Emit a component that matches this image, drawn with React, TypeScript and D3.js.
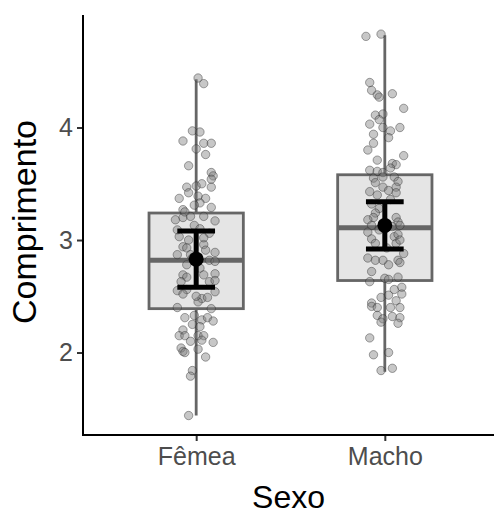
import React, { useEffect, useRef } from "react";
import * as d3 from "d3";

const categories = ["Fêmea", "Macho"];
const yTicks = [2, 3, 4];

// boxplot stats
const whiskerLow = [1.44, 1.83];
const q1 = [2.39, 2.64];
const median = [2.82, 3.11];
const q3 = [3.24, 3.58];
const whiskerHigh = [4.43, 4.82];
const means = [2.83, 3.13];
const ciLow = [2.58, 2.92];
const ciHigh = [3.08, 3.34];

// jittered observations (value, horizontal jitter in category units)
const femeaValues = [
  4.44, 4.39, 3.97, 3.96, 3.88, 3.86, 3.86, 3.81, 3.76, 3.66, 3.6, 3.57, 3.54, 3.47, 3.48,
  3.5, 3.47, 3.42, 3.37, 3.39, 3.37, 3.33, 3.29, 3.27, 3.31, 3.18, 3.2, 3.21, 3.21, 3.17,
  3.13, 3.25, 3.09, 3.1, 3.06, 3.03, 2.94, 2.93, 2.96, 2.91, 2.89, 2.87, 2.87, 2.82, 2.81,
  2.78, 2.75, 2.69, 2.67, 2.69, 2.7, 2.63, 2.63, 2.64, 2.55, 2.56, 2.54, 2.52, 2.48, 2.49,
  2.45, 2.4, 2.39, 2.5, 2.33, 2.31, 2.29, 2.31, 2.28, 2.25, 2.23, 2.2, 2.15, 2.15, 2.15,
  2.15, 2.11, 2.1, 2.09, 2.04, 2.01, 2.0, 2.03, 1.96, 1.84, 1.79, 1.44, 2.84, 3.0, 3.02,
];
const femeaJitter = [
  0.01, 0.04, -0.02, 0.02, -0.07, 0.04, 0.08, 0, 0.05, -0.04, 0.08, 0.09, 0.08, -0.05, 0,
  0.03, 0.08, -0.04, -0.09, 0.01, 0.05, 0.02, 0.08, -0.07, -0.01, -0.11, -0.07, -0.03, 0.04, 0.1,
  -0.01, -0.06, -0.1, 0.02, 0.07, -0.09, -0.07, -0.05, 0.04, 0.05, 0.1, -0.1, -0.03, 0.07, 0.1,
  -0.05, 0.02, -0.07, -0.05, 0.04, 0.1, -0.08, 0.07, 0.1, -0.1, -0.05, 0.1, -0.07, 0.03, 0.06,
  0.01, -0.1, 0.08, 0, -0.01, -0.06, 0.03, 0.06, 0.09, -0.02, 0.02, -0.07, -0.09, -0.06, 0.01,
  0.04, 0.03, -0.03, 0.09, -0.08, -0.07, -0.06, 0.01, 0.05, -0.02, -0.03, -0.04, -0.02, -0.04, 0.04,
];
const machoValues = [
  4.81, 4.83, 4.4, 4.33, 4.29, 4.27, 4.3, 4.17, 4.11, 4.12, 4.07, 4.03, 4.0, 3.97, 4.0,
  3.94, 3.91, 3.86, 3.8, 3.71, 3.75, 3.68, 3.67, 3.62, 3.61, 3.6, 3.64, 3.55, 3.56, 3.56,
  3.52, 3.51, 3.47, 3.44, 3.47, 3.43, 3.4, 3.42, 3.32, 3.36, 3.28, 3.24, 3.2, 3.18, 3.2,
  3.16, 3.13, 3.12, 3.13, 3.07, 3.01, 3.03, 3.05, 2.97, 2.97, 3.0, 2.88, 2.84, 2.82, 2.82,
  2.82, 2.8, 2.78, 2.72, 2.66, 2.65, 2.67, 2.63, 2.58, 2.56, 2.49, 2.51, 2.52, 2.44, 2.41,
  2.46, 2.4, 2.4, 2.4, 2.33, 2.3, 2.32, 2.31, 2.27, 2.26, 2.13, 1.98, 2.0, 1.84, 1.86,
  2.93, 3.09,
];
const machoJitter = [
  -0.1, -0.02, -0.08, -0.07, -0.04, -0.03, 0.04, 0.1, -0.05, -0.01, -0.03, -0.08, -0.01, 0.03, 0.08,
  -0.06, 0.02, -0.06, -0.09, -0.04, 0.1, 0.04, 0.06, -0.08, -0.04, -0.01, 0.03, -0.06, -0.01, 0.05,
  0.07, -0.05, -0.01, 0.02, 0.06, -0.08, -0.04, 0.06, -0.07, 0.03, -0.03, -0.05, -0.06, -0.09, 0.06,
  0.07, -0.07, 0.04, 0.08, -0.09, -0.07, 0.05, 0.07, -0.05, 0.06, 0.08, 0.1, -0.09, -0.05, -0.01,
  0.07, 0.08, 0.02, -0.07, 0, 0.02, 0.07, -0.08, 0.09, 0.05, -0.02, 0.02, 0.09, -0.07, -0.07,
  0.06, -0.04, 0.03, 0.08, -0.04, -0.01, 0.04, 0.08, -0.02, 0.07, -0.08, -0.06, 0.02, -0.02, 0.04,
  0.01, -0.03,
];

const W = 494;
const H = 516;
const font = "'Liberation Sans', Arial, sans-serif";

const App = () => {
  const ref = useRef<SVGSVGElement>(null);

  useEffect(() => {
    const svg = d3.select(ref.current);
    svg.selectAll("*").remove();

    const margin = { top: 15, right: -4, bottom: 81, left: 83 };
    const x = d3
      .scalePoint<string>()
      .domain(categories)
      .range([margin.left, W - margin.right])
      .padding(0.6);
    const y = d3
      .scaleLinear()
      .domain([1.267, 5.0])
      .range([H - margin.bottom, margin.top]);
    const unit = x.step();
    const boxW = unit * 0.5;
    const capW = unit * 0.2;

    const stats = categories.map((c, i) => ({
      c,
      lo: whiskerLow[i],
      q1: q1[i],
      med: median[i],
      q3: q3[i],
      hi: whiskerHigh[i],
      mean: means[i],
      ciLo: ciLow[i],
      ciHi: ciHigh[i],
    }));

    const points = [
      ...femeaValues.map((v, i) => ({ c: categories[0], v, j: femeaJitter[i] })),
      ...machoValues.map((v, i) => ({ c: categories[1], v, j: machoJitter[i] })),
    ];

    svg.append("rect").attr("width", W).attr("height", H).attr("fill", "#fff");

    // boxplots
    const box = svg.append("g").selectAll("g").data(stats).enter().append("g");
    box
      .append("line")
      .attr("x1", (d) => x(d.c)!)
      .attr("x2", (d) => x(d.c)!)
      .attr("y1", (d) => y(d.hi))
      .attr("y2", (d) => y(d.lo))
      .attr("stroke", "#666")
      .attr("stroke-width", 2.8);
    box
      .append("rect")
      .attr("x", (d) => x(d.c)! - boxW / 2)
      .attr("width", boxW)
      .attr("y", (d) => y(d.q3))
      .attr("height", (d) => y(d.q1) - y(d.q3))
      .attr("fill", "#e5e5e5")
      .attr("stroke", "#666")
      .attr("stroke-width", 2.8);
    box
      .append("line")
      .attr("x1", (d) => x(d.c)! - boxW / 2)
      .attr("x2", (d) => x(d.c)! + boxW / 2)
      .attr("y1", (d) => y(d.med))
      .attr("y2", (d) => y(d.med))
      .attr("stroke", "#666")
      .attr("stroke-width", 5);

    // jittered points
    svg
      .append("g")
      .selectAll("circle")
      .data(points)
      .enter()
      .append("circle")
      .attr("cx", (d) => x(d.c)! + d.j * unit)
      .attr("cy", (d) => y(d.v))
      .attr("r", 4.2)
      .attr("fill", "#7a7a7a")
      .attr("fill-opacity", 0.42)
      .attr("stroke", "#222")
      .attr("stroke-opacity", 0.4)
      .attr("stroke-width", 1);

    // error bars and means
    const eb = svg.append("g").selectAll("g").data(stats).enter().append("g");
    eb.append("line")
      .attr("x1", (d) => x(d.c)!)
      .attr("x2", (d) => x(d.c)!)
      .attr("y1", (d) => y(d.ciHi))
      .attr("y2", (d) => y(d.ciLo))
      .attr("stroke", "#000")
      .attr("stroke-width", 5);
    [(d: any) => d.ciHi, (d: any) => d.ciLo].forEach((f) => {
      eb.append("line")
        .attr("x1", (d) => x(d.c)! - capW / 2)
        .attr("x2", (d) => x(d.c)! + capW / 2)
        .attr("y1", (d) => y(f(d)))
        .attr("y2", (d) => y(f(d)))
        .attr("stroke", "#000")
        .attr("stroke-width", 5);
    });
    eb.append("circle")
      .attr("cx", (d) => x(d.c)!)
      .attr("cy", (d) => y(d.mean))
      .attr("r", 7.5)
      .attr("fill", "#000");

    // axes
    const yAxis = svg
      .append("g")
      .attr("transform", `translate(${margin.left},0)`)
      .call(d3.axisLeft(y).tickValues(yTicks).tickSize(6).tickPadding(4).tickFormat(d3.format("d")));
    yAxis.select(".domain").remove();
    yAxis.selectAll(".tick line").attr("stroke", "#333").attr("stroke-width", 2);
    yAxis
      .selectAll(".tick text")
      .attr("fill", "#4d4d4d")
      .style("font-family", font)
      .style("font-size", "25px");

    const xAxis = svg
      .append("g")
      .attr("transform", `translate(0,${H - margin.bottom})`)
      .call(d3.axisBottom(x).tickSize(6).tickPadding(6));
    xAxis.select(".domain").remove();
    xAxis.selectAll(".tick line").attr("stroke", "#333").attr("stroke-width", 2);
    xAxis
      .selectAll(".tick text")
      .attr("fill", "#4d4d4d")
      .style("font-family", font)
      .style("font-size", "25px");

    // axis lines
    svg
      .append("path")
      .attr("d", `M${margin.left},${margin.top}V${H - margin.bottom}H${W}`)
      .attr("fill", "none")
      .attr("stroke", "#000")
      .attr("stroke-width", 2);

    svg
      .append("text")
      .attr("x", (margin.left + W) / 2)
      .attr("y", 508)
      .attr("text-anchor", "middle")
      .style("font-family", font)
      .style("font-size", "32px")
      .attr("fill", "#000")
      .text("Sexo");

    svg
      .append("text")
      .attr("transform", `translate(36,${y(3) - 18}) rotate(-90)`)
      .attr("text-anchor", "middle")
      .style("font-family", font)
      .style("font-size", "34px")
      .attr("fill", "#000")
      .text("Comprimento");
  }, []);

  return (
    <svg
      ref={ref}
      width={W}
      height={H}
      style={{ position: "absolute", left: 0, top: 0, display: "block" }}
    />
  );
};

export default App;
